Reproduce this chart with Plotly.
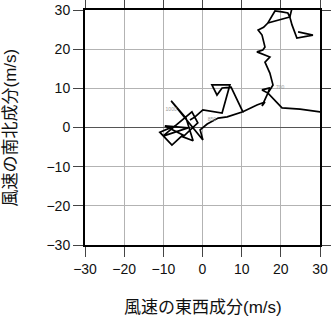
import plotly.graph_objects as go

# Hodograph segments (u = east-west component, v = north-south component, m/s)
u_seg_a = [-7.8, -10.9, -7.8, -5.0, -9.6, -3.7, -10.1, -5.8, -2.7, -1.2, -5.0, -2.4, -4.2, -8.0,
           0.1, -0.6, 1.2, 4.0, 6.3, 10.3, 7.3, 5.0, 3.7, 2.4, 7.0, 5.0, 0.1, -1.9, -3.2]
v_seg_a = [0.1, -1.2, -4.5, -1.9, 0.4, -0.1, -2.2, 1.4, 4.0, 1.2, -2.4, -3.4, 2.4, 6.8,
           -3.2, -0.6, 0.9, 2.4, 2.7, 4.0, 10.3, 10.1, 8.3, 10.9, 10.9, 3.7, 4.5, 2.7, 1.9]

u_seg_b = [10.3, 13.9, 15.95, 15.2, 16.7, 15.2, 17.2, 16.7, 20.3, 24.9, 30.0, 33.8]
v_seg_b = [4.0, 5.75, 6.5, 5.5, 8.8, 9.6, 10.1, 8.8, 5.0, 4.7, 4.0, 3.7]

u_seg_c = [16.7, 18.0, 17.2, 15.95, 17.2, 13.9, 15.4, 15.95, 15.2, 14.2, 15.6, 16.7,
           22.3, 22.85, 24.1, 28.2, 24.4]
v_seg_c = [8.8, 10.85, 13.9, 16.7, 18.0, 19.3, 19.8, 20.55, 23.6, 24.9, 25.6, 26.7,
           28.2, 26.2, 22.85, 23.6, 24.4]

u_seg_d = [16.7, 17.7, 18.5, 20.3, 21.8, 22.3, 22.85, 23.6]
v_seg_d = [26.7, 28.2, 29.74, 29.5, 29.23, 28.2, 30.5, 31.5]

level_labels = ["1000", "850", "700"]
level_u = [-8.0, 2.4, 19.8]
level_v = [4.5, 1.9, 10.1]

ticks = [-30, -20, -10, 0, 10, 20, 30]
x_title = "風速の東西成分(m/s)"
y_title = "風速の南北成分(m/s)"

u_all = u_seg_a + [None] + u_seg_b + [None] + u_seg_c + [None] + u_seg_d
v_all = v_seg_a + [None] + v_seg_b + [None] + v_seg_c + [None] + v_seg_d

fig = go.Figure()
fig.add_trace(go.Scatter(x=u_all, y=v_all, mode="lines",
                         line=dict(color="black", width=1.7),
                         connectgaps=False, hoverinfo="skip"))
fig.add_trace(go.Scatter(x=level_u, y=level_v, mode="text", text=level_labels,
                         textfont=dict(size=5, color="#999999",
                                       family="Liberation Sans, Arial, sans-serif"),
                         hoverinfo="skip"))

font_main = "Liberation Sans, Arial, Noto Sans CJK JP, sans-serif"
axis_common = dict(
    range=[-30, 30], tickvals=ticks, showgrid=True, gridcolor="#b3b3b3", gridwidth=1,
    showline=True, linecolor="black", linewidth=2, mirror="ticks",
    ticks="outside", ticklen=10, tickcolor="#444444", tickwidth=1,
    tickfont=dict(size=14, color="#111111", family=font_main),
    automargin=False,
)
fig.update_layout(
    width=331, height=318,
    margin=dict(l=85, r=11, t=10, b=73, autoexpand=False),
    paper_bgcolor="white", plot_bgcolor="white",
    showlegend=False,
    font=dict(family=font_main, color="#111111"),
    xaxis=dict(**axis_common, zeroline=False),
    yaxis=dict(**axis_common, zeroline=True, zerolinecolor="#555555", zerolinewidth=1),
    annotations=[
        dict(text=x_title, xref="paper", yref="paper", x=0.5, y=-0.264,
             xanchor="center", yanchor="middle", showarrow=False,
             font=dict(size=17, color="#111111")),
        dict(text=y_title, xref="paper", yref="paper", x=-0.319, y=0.5,
             xanchor="center", yanchor="middle", showarrow=False, textangle=-90,
             font=dict(size=17, color="#111111")),
    ],
)
fig.write_html("out.html")
